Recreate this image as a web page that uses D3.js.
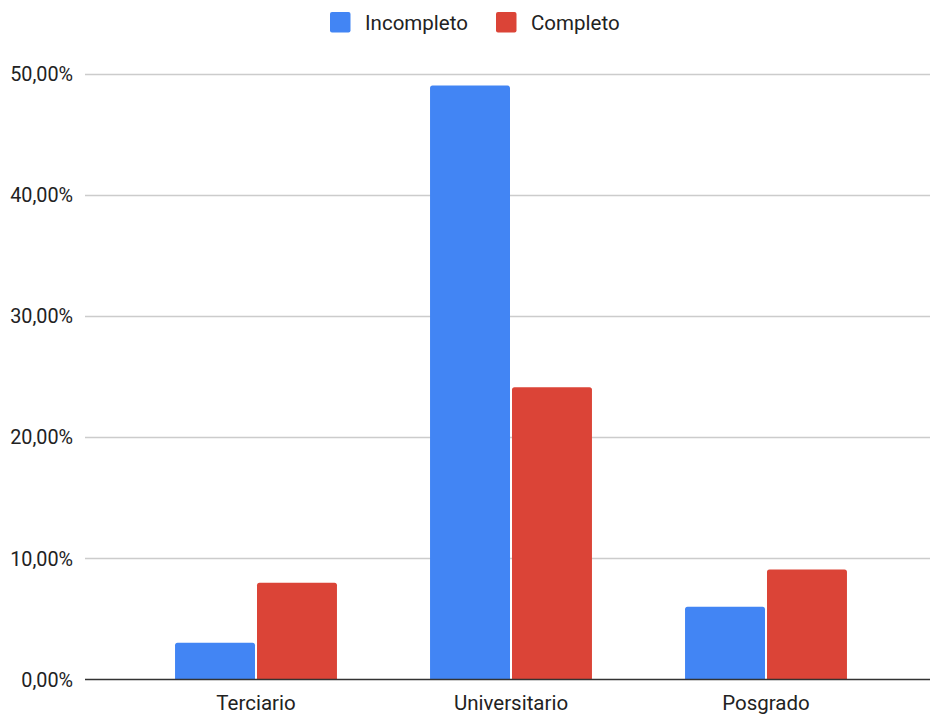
<!DOCTYPE html>
<html>
<head>
<meta charset="utf-8">
<script src="https://cdn.jsdelivr.net/npm/d3@7"></script>
<style>
  html, body { margin: 0; padding: 0; background: #fff; }
  svg { display: block; font-family: Roboto, "Noto Sans", sans-serif; }
</style>
</head>
<body>
<svg id="chart" width="930" height="715"></svg>
<script>
// Nivel educativo alcanzado, porcentaje por estado
const categories = ["Terciario", "Universitario", "Posgrado"];
const seriesNames = ["Incompleto", "Completo"];
const incompleto = [3.0, 49.0, 5.97];
const completo = [7.95, 24.1, 9.05];
const yTicks = [0, 10, 20, 30, 40, 50];
const colors = ["#4285F4", "#DB4437"];

const seriesValues = [incompleto, completo];
const rows = categories.map((c, i) => ({
  cat: c,
  vals: seriesNames.map((s, j) => ({ key: s, value: seriesValues[j][i], color: colors[j] }))
}));

const svg = d3.select("#chart");
const plotLeft = 85, plotRight = 930, plotTop = 73.5, plotBottom = 679;

const y = d3.scaleLinear().domain([0, 50]).range([plotBottom, plotTop]);
const x0 = d3.scaleBand().domain(categories).range([128.5, 893.5])
  .paddingInner(0.365).paddingOuter(0.1825);
const x1 = d3.scaleBand().domain(seriesNames).range([0, x0.bandwidth()]);

const fmt = v => d3.format(".2f")(v).replace(".", ",") + "%";

// Gridlines
svg.append("g").selectAll("line").data(yTicks.filter(d => d > 0)).join("line")
  .attr("x1", plotLeft).attr("x2", plotRight)
  .attr("y1", d => Math.round(y(d)) + 0.5).attr("y2", d => Math.round(y(d)) + 0.5)
  .attr("stroke", "#cccccc").attr("stroke-width", 1.3);

// Y axis labels
const yAxis = d3.axisLeft(y).tickValues(yTicks).tickFormat(fmt).tickSize(0).tickPadding(0);
const ya = svg.append("g").attr("transform", `translate(73,0)`).call(yAxis);
ya.select(".domain").remove();
ya.selectAll("text").attr("font-size", 19.8).attr("fill", "#222").attr("dy", "0.36em")
  .attr("font-family", "Roboto, sans-serif");

// Bars with softly rounded tops
function barPath(x, w, yTop, yBase, r) {
  r = Math.min(r, (yBase - yTop));
  return `M${x},${yBase}V${yTop + r}Q${x},${yTop} ${x + r},${yTop}H${x + w - r}Q${x + w},${yTop} ${x + w},${yTop + r}V${yBase}Z`;
}
const groups = svg.append("g").selectAll("g").data(rows).join("g")
  .attr("transform", d => `translate(${x0(d.cat)},0)`);
groups.selectAll("path").data(d => d.vals).join("path")
  .attr("d", d => barPath(x1(d.key) + (d.key === seriesNames[1] ? 1 : 0), x1.bandwidth() - 1, y(d.value), plotBottom, 2.5))
  .attr("fill", d => d.color);

// Baseline
svg.append("line").attr("x1", plotLeft).attr("x2", plotRight)
  .attr("y1", plotBottom + 0.5).attr("y2", plotBottom + 0.5)
  .attr("stroke", "#333").attr("stroke-width", 1.3);

// X axis labels
const xAxis = d3.axisBottom(x0).tickSize(0).tickPadding(0);
const xa = svg.append("g").attr("transform", `translate(0,${plotBottom})`).call(xAxis);
xa.select(".domain").remove();
xa.selectAll("text").attr("font-size", 20.5).attr("fill", "#222").attr("dy", "0").attr("y", 31)
  .attr("font-family", "Roboto, sans-serif");

// Legend
const legendItems = [
  { key: seriesNames[0], color: colors[0], x: 330 },
  { key: seriesNames[1], color: colors[1], x: 496 }
];
const lg = svg.append("g").selectAll("g").data(legendItems).join("g")
  .attr("transform", d => `translate(${d.x},12)`);
lg.append("rect").attr("width", 20.5).attr("height", 20.5).attr("rx", 2).attr("fill", d => d.color);
lg.append("text").attr("x", 35).attr("y", 17.5).attr("font-size", 20.5).attr("fill", "#222")
  .text(d => d.key);
</script>
</body>
</html>
